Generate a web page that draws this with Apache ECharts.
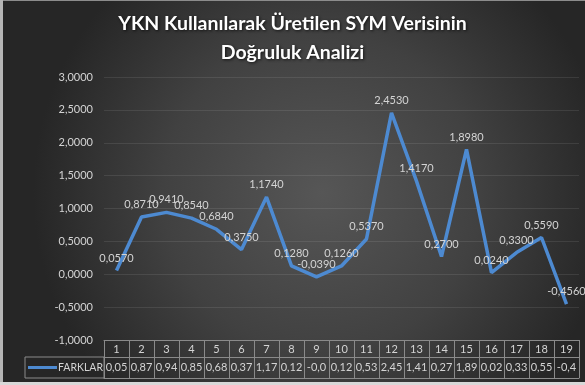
<!DOCTYPE html>
<html>
<head>
<meta charset="utf-8">
<script src="https://cdn.jsdelivr.net/npm/echarts@6/dist/echarts.min.js"></script>
<style>
  html, body { margin: 0; padding: 0; background: #2a2a2a; }
  #chart { width: 585px; height: 385px; }
</style>
</head>
<body>
<div id="chart"></div>
<script>
// Point indices 1..19
const categories = ['1','2','3','4','5','6','7','8','9','10','11','12','13','14','15','16','17','18','19'];
// FARKLAR series values
const farklar = [0.0570, 0.8710, 0.9410, 0.8540, 0.6840, 0.3750, 1.1740, 0.1280, -0.0390, 0.1260,
                 0.5370, 2.4530, 1.4170, 0.2700, 1.8980, 0.0240, 0.3300, 0.5590, -0.4560];
// Text shown in the narrow data-table cells
const tableText = ['0,05','0,87','0,94','0,85','0,68','0,37','1,17','0,12','-0,0','0,12',
                   '0,53','2,45','1,41','0,27','1,89','0,02','0,33','0,55','-0,4'];
const seriesName = 'FARKLAR';
const yMin = -1, yMax = 3, yStep = 0.5;

const FONT = 'Lato, "Open Sans", sans-serif';
const GRID = { left: 104, right: 6, top: 77, bottom: 45 };
const ROW1 = 17, ROW2 = 38;          // data-table row offsets below the plot
const TABLE_LINE = '#8a8a8a';
const TEXT = '#d4d4d4';
const LINE_COLOR = '#4d8ad1';

const comma = (v, d) => v.toFixed(d).replace('.', ',');

const chart = echarts.init(document.getElementById('chart'), null, { renderer: 'canvas' });

const tableAxisBase = {
  type: 'category',
  data: categories,
  position: 'bottom',
  boundaryGap: true,
  axisLine: { show: true, onZero: false, lineStyle: { color: TABLE_LINE, width: 1 } },
  splitLine: { show: false }
};

const H = 385, W = 585;
const legendCellTop = H - GRID.bottom + ROW1;

chart.setOption({
  animation: false,
  backgroundColor: {
    type: 'radial', x: 0.55, y: 0.5, r: 0.75,
    colorStops: [
      { offset: 0, color: '#565656' },
      { offset: 0.55, color: '#414141' },
      { offset: 1, color: '#262626' }
    ]
  },
  title: {
    text: 'YKN Kullanılarak Üretilen SYM Verisinin\nDoğruluk Analizi',
    left: 'center',
    top: 4,
    textStyle: {
      color: '#ffffff', fontFamily: FONT, fontSize: 19.5, fontWeight: 'bold', lineHeight: 29,
      textShadowColor: 'rgba(0,0,0,0.7)', textShadowBlur: 3, textShadowOffsetX: 1, textShadowOffsetY: 1
    }
  },
  legend: {
    data: [{ name: seriesName, icon: 'rect' }],
    left: GRID.left - 79 + 3,
    top: legendCellTop + 5,
    itemWidth: 29, itemHeight: 3, itemGap: 0,
    padding: 0,
    itemStyle: { color: LINE_COLOR },
    textStyle: { color: TEXT, fontFamily: FONT, fontSize: 10.5, padding: [0, 0, 0, -4] }
  },
  grid: GRID,
  xAxis: [
    Object.assign({}, tableAxisBase, {
      axisTick: { show: true, interval: 0, alignWithLabel: false, length: ROW2, lineStyle: { color: TABLE_LINE } },
      axisLabel: { interval: 0, margin: 4, color: TEXT, fontFamily: FONT, fontSize: 11 }
    }),
    Object.assign({}, tableAxisBase, {
      offset: ROW1,
      axisTick: { show: false },
      axisLabel: {
        interval: 0, margin: 5, color: TEXT, fontFamily: FONT, fontSize: 11,
        formatter: (v, i) => tableText[i]
      }
    }),
    Object.assign({}, tableAxisBase, {
      offset: ROW2,
      axisTick: { show: false },
      axisLabel: { show: false }
    })
  ],
  yAxis: {
    type: 'value',
    min: yMin, max: yMax, interval: yStep,
    axisLine: { show: false },
    axisTick: { show: false },
    axisLabel: { color: TEXT, fontFamily: FONT, fontSize: 11, margin: 11, formatter: v => comma(v, 4) },
    splitLine: { lineStyle: { color: 'rgba(255,255,255,0.09)', width: 1 } }
  },
  series: [{
    name: seriesName,
    type: 'line',
    data: farklar,
    xAxisIndex: 0,
    symbol: 'circle',
    symbolSize: 0,
    showSymbol: true,
    lineStyle: { color: LINE_COLOR, width: 3.5 },
    itemStyle: { color: LINE_COLOR },
    label: {
      show: true, position: 'top', distance: 7,
      color: TEXT, fontFamily: FONT, fontSize: 11,
      formatter: p => comma(p.value, 4)
    }
  }],
  graphic: [
    // box around the legend cell of the data table
    { type: 'rect', silent: true,
      shape: { x: GRID.left - 79, y: legendCellTop, width: 79, height: ROW2 - ROW1 },
      style: { fill: 'none', stroke: TABLE_LINE, lineWidth: 1 } },
    // frame edges
    { type: 'rect', silent: true, shape: { x: 0, y: 0, width: W, height: 1 }, style: { fill: '#8c8c8c' } },
    { type: 'rect', silent: true, shape: { x: 0, y: 0, width: 3, height: H }, style: { fill: '#b5b5b5' } },
    { type: 'rect', silent: true, shape: { x: 0, y: H - 3, width: W, height: 3 }, style: { fill: '#d8d8d8' } }
  ]
});
</script>
</body>
</html>
